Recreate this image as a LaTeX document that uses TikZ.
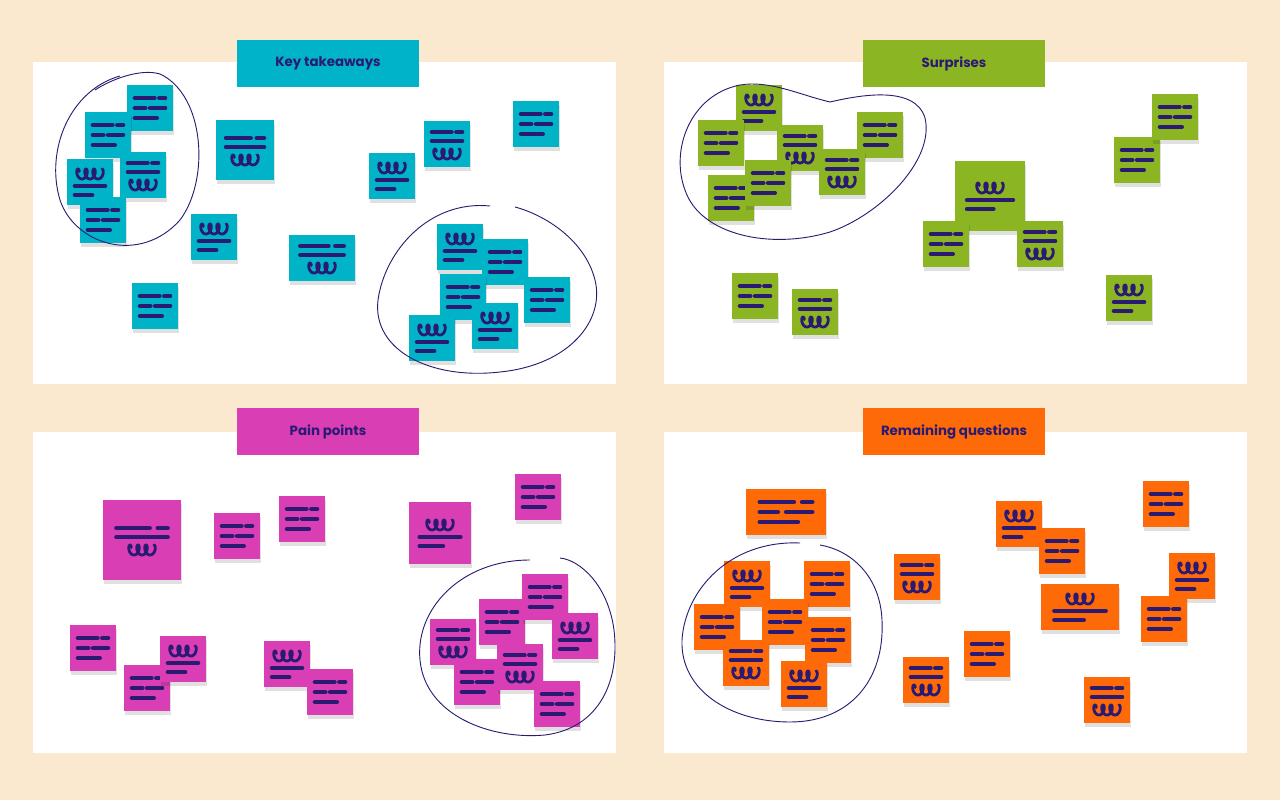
\documentclass[tikz,border=0pt]{standalone}
\usepackage{fontspec}
\setmainfont{Poppins}
\definecolor{paper}{HTML}{FAE8CF}
\definecolor{ink}{HTML}{2B1A72}
\definecolor{teal}{HTML}{00B3C7}
\definecolor{leaf}{HTML}{8CB523}
\definecolor{berry}{HTML}{D93EB4}
\definecolor{tang}{HTML}{FF6A08}
\tikzset{
  board/.style={fill=white},
  title/.style={minimum width=9.1cm, minimum height=2.35cm, font=\fontsize{19}{22}\selectfont\bfseries, text=ink},
  inkline/.style={ink, line width=6pt, line cap=round},
  scribble/.style={ink, line width=4pt, line cap=round},
  lasso/.style={ink, line width=1.3pt},
}
% sticky note: x, y, w, h, colour, kind
\newcommand\stickynote[6]{%
  \fill[black, opacity=0.12] (#1-#3/2+1,#2-#4/2+4) rectangle (#1+#3/2+1,#2+#4/2+4);
  \fill[#5] (#1-#3/2,#2-#4/2) rectangle (#1+#3/2,#2+#4/2);
  \pgfmathsetmacro\hw{#3*0.33}
  \ifcase#6
    \draw[inkline] (#1-\hw,#2-10) -- (#1+0.1*#3,#2-10) (#1+0.2*#3,#2-10) -- (#1+\hw,#2-10)
                   (#1-\hw,#2) -- (#1-0.1*#3,#2) (#1,#2) -- (#1+\hw,#2)
                   (#1-\hw,#2+10) -- (#1+0.15*#3,#2+10);
  \or
    \draw[scribble] plot[domain=-60:1080, samples=80] ({#1-12+\t/1080*24-3*sin(\t)}, {#2-8-5*cos(\t)});
    \draw[inkline] (#1-\hw,#2+4) -- (#1+\hw,#2+4) (#1-\hw,#2+13) -- (#1+0.05*#3,#2+13);
  \or
    \draw[inkline] (#1-\hw,#2-12) -- (#1+0.1*#3,#2-12) (#1+0.2*#3,#2-12) -- (#1+\hw,#2-12)
                   (#1-\hw,#2-3) -- (#1+\hw,#2-3);
    \draw[scribble] plot[domain=-60:1080, samples=80] ({#1-12+\t/1080*24-3*sin(\t)}, {#2+10-5*cos(\t)});
  \fi
}
\begin{document}
\begin{tikzpicture}[x=0.05cm, y=-0.05cm, variable=\t]
  \fill[paper] (0,0) rectangle (1280,800);
  \useasboundingbox (0,0) rectangle (1280,800);

  % boards
  \fill[board] (33,62) rectangle (616,384);
  \fill[board] (664,62) rectangle (1247,384);
  \fill[board] (33,432) rectangle (616,753);
  \fill[board] (664,432) rectangle (1247,753);

  % titles
  \node[title, fill=teal] (keytitle) at (328,63.5) {Key takeaways};
  \node[title, fill=leaf] (surptitle) at (954,63.5) {Surprises};
  \node[title, fill=berry] (paintitle) at (328,431.5) {Pain points};
  \node[title, fill=tang] (questitle) at (954,431.5) {Remaining questions};

  % Key takeaways
  \foreach \px/\py/\w/\h/\k in {150/108/46/46/0, 108/135/46/46/0, 90/182/46/46/1, 143/175/46/46/2,
      103/220/46/46/0, 245/150/58/60/2, 214/237/46/46/1, 392/176/46/46/1, 447/144/46/46/2,
      536/124/46/46/0, 322/258/66/46/2, 155/306/46/46/0, 460/247/46/46/1, 505/262/46/46/0,
      547/300/46/46/0, 463/297/46/46/0, 432/338/46/46/1, 495/326/46/46/1}
    {\stickynote{\px}{\py}{\w}{\h}{teal}{\k}}
  \draw[lasso] (120,76) .. controls (70,90) and (45,150) .. (60,200)
     .. controls (75,245) and (140,265) .. (180,220) .. controls (210,180) and (205,95) .. (160,74)
     .. controls (140,68) and (110,80) .. (95,90);
  \draw[lasso] (490,206) .. controls (430,200) and (385,250) .. (378,300)
     .. controls (372,350) and (430,380) .. (500,372) .. controls (570,365) and (605,320) .. (595,280)
     .. controls (585,240) and (545,215) .. (515,207);

  % Surprises
  \foreach \px/\py/\w/\h/\k in {759/108/46/46/1, 721/143/46/46/0, 800/148/46/46/2, 880/135/46/46/0,
      731/198/46/46/0, 768/183/46/46/0, 842/172/46/46/2, 990/196/70/70/1, 946/244/46/46/0,
      1040/244/46/46/2, 1137/160/46/46/0, 1175/117/46/46/0, 755/296/46/46/0, 815/312/46/46/2,
      1129/298/46/46/1}
    {\stickynote{\px}{\py}{\w}{\h}{leaf}{\k}}
  \draw[lasso] (740,85) .. controls (690,95) and (670,150) .. (685,190)
     .. controls (700,235) and (770,250) .. (830,232) .. controls (880,215) and (935,160) .. (925,118)
     .. controls (915,85) and (860,95) .. (830,102) .. controls (800,95) and (770,80) .. (740,85);

  % Pain points
  \foreach \px/\py/\w/\h/\k in {142/540/78/80/2, 237/536/46/46/0, 302/519/46/46/0, 440/533/62/62/1,
      538/497/46/46/0, 93/648/46/46/0, 147/688/46/46/0, 183/659/46/46/1, 287/664/46/46/1,
      330/692/46/46/0, 453/642/46/46/2, 502/622/46/46/0, 545/597/46/46/0, 575/636/46/46/1,
      477/682/46/46/0, 520/667/46/46/2, 557/704/46/46/0}
    {\stickynote{\px}{\py}{\w}{\h}{berry}{\k}}
  \draw[lasso] (530,560) .. controls (460,560) and (415,610) .. (420,660)
     .. controls (425,715) and (490,740) .. (545,735) .. controls (600,728) and (620,680) .. (614,630)
     .. controls (608,585) and (580,560) .. (560,558);

  % Remaining questions
  \foreach \px/\py/\w/\h/\k in {786/512/80/46/0, 917/577/46/46/2, 1019/524/46/46/1, 1062/551/46/46/0,
      1166/504/46/46/0, 1192/576/46/46/1, 1080/607/78/46/1, 1164/619/46/46/0, 747/584/46/46/1,
      827/584/46/46/0, 717/627/46/46/0, 785/622/46/46/0, 828/640/46/46/0, 746/663/46/46/2,
      804/684/46/46/1, 926/680/46/46/2, 987/654/46/46/0, 1107/700/46/46/2}
    {\stickynote{\px}{\py}{\w}{\h}{tang}{\k}}
  \draw[lasso] (800,543) .. controls (730,540) and (685,590) .. (682,640)
     .. controls (680,690) and (730,722) .. (790,722) .. controls (850,722) and (885,680) .. (882,620)
     .. controls (880,575) and (850,550) .. (820,545);
\end{tikzpicture}
\end{document}
